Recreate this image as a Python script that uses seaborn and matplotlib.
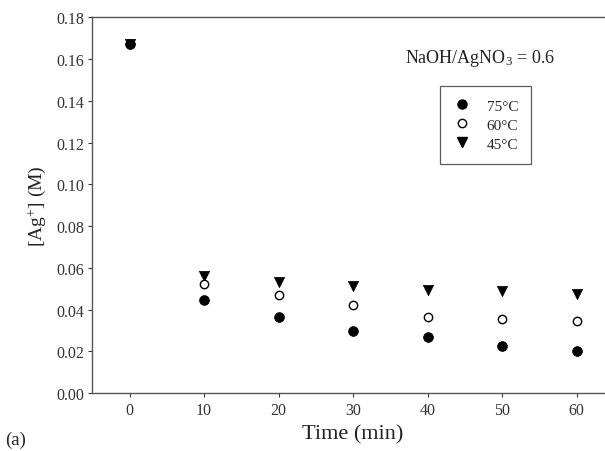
import numpy as np
import pandas as pd
import matplotlib
matplotlib.use("Agg")
import matplotlib.pyplot as plt
import seaborn as sns
from matplotlib.lines import Line2D

# data
time_min = [0, 10, 20, 30, 40, 50, 60]
ag_75 = [0.167, 0.0448, 0.0367, 0.0300, 0.0268, 0.0228, 0.0204]
ag_60 = [0.167, 0.0523, 0.0471, 0.0424, 0.0364, 0.0356, 0.0348]
ag_45 = [0.167, 0.0563, 0.0531, 0.0512, 0.0494, 0.0491, 0.0475]
series_labels = ["75\u00b0C", "60\u00b0C", "45\u00b0C"]
y_ticks = [0.00, 0.02, 0.04, 0.06, 0.08, 0.10, 0.12, 0.14, 0.16, 0.18]
x_ticks = [0, 10, 20, 30, 40, 50, 60]

sns.set_theme(style="ticks")
plt.rcParams["font.family"] = ["Liberation Serif", "DejaVu Serif"]
plt.rcParams["mathtext.fontset"] = "custom"
plt.rcParams["mathtext.rm"] = "Liberation Serif"
plt.rcParams["mathtext.it"] = "Liberation Serif:italic"

df = pd.DataFrame({"time": time_min, "t75": ag_75, "t60": ag_60, "t45": ag_45})

fig = plt.figure(figsize=(6.05, 4.52), dpi=100)
# the original is cropped on the right, so the axes run past the canvas
ax = fig.add_axes([0.1526, 0.1277, 0.862, 0.8319])

sns.scatterplot(data=df, x="time", y="t45", ax=ax, marker="v", s=55,
                color="black", edgecolor="black", linewidth=0.5, zorder=3)
sns.scatterplot(data=df, x="time", y="t60", ax=ax, marker="o", s=36,
                facecolor="white", edgecolor="black", linewidth=1.0, zorder=4)
sns.scatterplot(data=df, x="time", y="t75", ax=ax, marker="o", s=50,
                color="black", edgecolor="black", linewidth=0.5, zorder=5)

ax.set_xlim(-5, 65)
ax.set_ylim(0, 0.18)
ax.set_xticks(x_ticks)
ax.set_yticks(y_ticks)
ax.set_yticklabels([f"{v:.2f}" for v in y_ticks])
ax.tick_params(direction="out", length=3, width=0.8, colors="#333333",
               labelsize=11.5, labelcolor="#333333", pad=3)
for sp in ax.spines.values():
    sp.set_color("#555555")
    sp.set_linewidth(1.0)
ax.spines["right"].set_visible(False)

ax.set_xlabel("Time (min)", fontsize=16, color="#222222", labelpad=5)
ax.set_ylabel(r"[Ag$^{+}$] (M)", fontsize=14, color="#222222", labelpad=6)
fig.text(0.008, 0.015, "(a)", fontsize=13.5, color="#222222")

fig.text(405 / 605, 1 - 63 / 452, r"NaOH/AgNO$_3$ = 0.6", fontsize=13,
         color="#222222")

handles = [
    Line2D([], [], linestyle="none", marker="o", markersize=6.5,
           markerfacecolor="black", markeredgecolor="black"),
    Line2D([], [], linestyle="none", marker="o", markersize=6,
           markerfacecolor="white", markeredgecolor="black"),
    Line2D([], [], linestyle="none", marker="v", markersize=7,
           markerfacecolor="black", markeredgecolor="black"),
]
leg = fig.legend(handles, series_labels, loc="upper left",
                 bbox_to_anchor=(440 / 605, 1 - 87 / 452),
                 borderaxespad=0, frameon=True, fancybox=False, fontsize=11,
                 handletextpad=1.0, labelspacing=0.35,
                 borderpad=0.85, handlelength=1.2)
leg.get_frame().set_edgecolor("#333333")
leg.get_frame().set_linewidth(0.9)

fig.savefig("out.png", dpi=100)
